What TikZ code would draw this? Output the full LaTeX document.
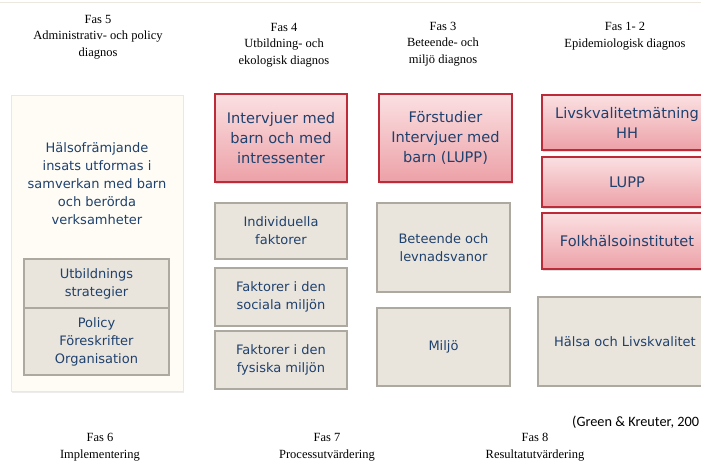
\documentclass[tikz,border=0pt]{standalone}
\usepackage{fontspec}
\setmainfont{Liberation Serif}
\newfontfamily\boxfont{DejaVu Sans}
\newfontfamily\citefont{Carlito}
\usepackage{tikz}
\usetikzlibrary{shadows}
\definecolor{boxtext}{HTML}{1F416E}
\definecolor{redline}{HTML}{BE2B38}
\definecolor{redtop}{HTML}{FBE0E2}
\definecolor{redbot}{HTML}{ECA1A7}
\definecolor{grayfill}{HTML}{EAE5DC}
\definecolor{grayline}{HTML}{ADA9A1}
\definecolor{creamfill}{HTML}{FEFCF5}
\definecolor{creamline}{HTML}{ECE8DE}
\tikzstyle{head} = [align=center,font=\fontsize{12.5}{16.5}\selectfont,inner sep=0pt]
\tikzstyle{redbox} = [draw=redline,line width=1.3pt,top color=redtop,bottom color=redbot,
  text=boxtext,align=center,font=\boxfont\fontsize{14.6}{20}\selectfont,inner sep=0pt,
  drop shadow={shadow xshift=1pt,shadow yshift=-1.5pt,opacity=.25}]
\tikzstyle{graybox} = [draw=grayline,line width=1.6pt,fill=grayfill,text=boxtext,align=center,
  font=\boxfont\fontsize{13}{18}\selectfont,inner sep=0pt]

\begin{document}
\begin{tikzpicture}[x=1pt,y=-1pt]
\useasboundingbox (0,0) rectangle (701,464);
\clip (0,0) rectangle (701,464);
\draw[creamline,line width=1pt] (0,2) -- (701,2);

% rubriker
\node[head] (fas5) at (98,37) {Fas 5\\Administrativ-\ och policy\\diagnos};
\node[head] (fas4) at (284,45) {Fas 4\\Utbildning- och\\ekologisk diagnos};
\node[head] (fas3) at (443,44) {Fas 3\\Beteende- och\\miljö diagnos};
\node[head] (fas12) at (625,36) {Fas 1- 2\\Epidemiologisk diagnos};

% fas 5
\node[draw=creamline,line width=1pt,fill=creamfill,minimum width=172pt,minimum height=296pt,
  drop shadow={shadow xshift=1pt,shadow yshift=-1.5pt,opacity=.15}] (adm) at (97,243) {};
\node[text=boxtext,align=center,font=\boxfont\fontsize{13}{18}\selectfont] (admtxt) at (97,184)
  {Hälsofrämjande\\insats utformas i\\samverkan med barn\\och berörda\\verksamheter};
\node[graybox,minimum width=145pt,minimum height=49pt] (utb) at (96.5,283.5) {Utbildnings\\strategier};
\node[graybox,minimum width=145pt,minimum height=67pt] (pol) at (96.5,341.5) {Policy\\Föreskrifter\\Organisation};

% fas 4
\node[redbox,minimum width=132pt,minimum height=88pt] (intv) at (281,138) {Intervjuer med\\barn och med\\intressenter};
\node[graybox,minimum width=132pt,minimum height=56pt] (ind) at (281,231) {Individuella\\faktorer};
\node[graybox,minimum width=132pt,minimum height=58pt] (soc) at (281,297) {Faktorer i den\\sociala miljön};
\node[graybox,minimum width=132pt,minimum height=58pt] (fys) at (281,360) {Faktorer i den\\fysiska miljön};

% fas 3
\node[redbox,minimum width=133pt,minimum height=88pt] (forst) at (445.5,138) {Förstudier\\Intervjuer med\\barn (LUPP)};
\node[graybox,minimum width=133pt,minimum height=89pt] (bet) at (443.5,247.5) {Beteende och\\levnadsvanor};
\node[graybox,minimum width=133pt,minimum height=78pt] (milj) at (443.5,347) {Miljö};

% fas 1-2
\node[redbox,minimum width=170pt,minimum height=55pt] (liv) at (627,122.5) {Livskvalitetmätning\\HH};
\node[redbox,minimum width=170pt,minimum height=50pt] (lupp) at (627,182) {LUPP};
\node[redbox,minimum width=170pt,minimum height=56pt] (folk) at (627,241) {Folkhälsoinstitutet};
\node[graybox,minimum width=174pt,minimum height=89pt] (hals) at (625,341.5) {Hälsa och Livskvalitet};

% nederkant
\node[anchor=west,inner sep=0pt,font=\citefont\fontsize{14.3}{16}\selectfont] (ref) at (572,422) {(Green \& Kreuter, 200};
\node[head] (fas6) at (100,447) {Fas 6\\Implementering};
\node[head] (fas7) at (327,447) {Fas 7\\Processutvärdering};
\node[head] (fas8) at (535,447) {Fas 8\\Resultatutvärdering};
\end{tikzpicture}
\end{document}
